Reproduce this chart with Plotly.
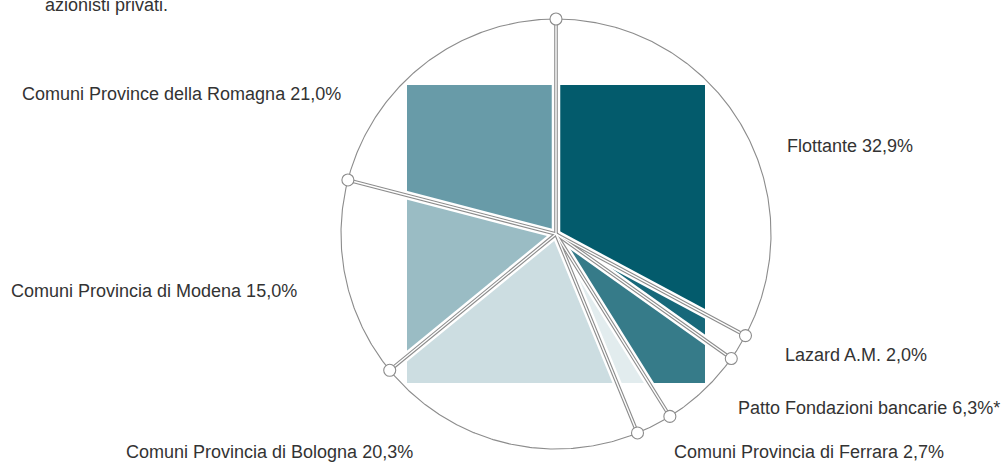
import numpy as np
import plotly.graph_objects as go

# Shareholder structure (percent), clockwise from 12 o'clock
names = [
    "Flottante",
    "Lazard A.M.",
    "Patto Fondazioni bancarie",
    "Comuni Provincia di Ferrara",
    "Comuni Provincia di Bologna",
    "Comuni Provincia di Modena",
    "Comuni Province della Romagna",
]
shares = [32.9, 2.0, 6.3, 2.7, 20.3, 15.0, 21.0]
notes = ["", "", "*", "", "", "", ""]
header = "azionisti privati."

# styling
colors = ["#035b6c", "#17687a", "#367b89", "#e2ecee", "#ccdde1", "#9abcc4", "#689ba8"]
grey = "#8c8c8c"
text_color = "#333333"
font_family = "Liberation Sans, Arial, sans-serif"
font_size = 18

# geometry (pixel units, y grows downward)
W, H = 1003, 466
cx, cy = 556.0, 234.0
R = 215.0          # outer ring radius
half = 149.0       # half side of the square the slices are clipped to

# label anchor points (left edge, vertical middle)
label_pos = [(785, 146), (783, 355), (736, 408), (672, 452), (124, 452), (9, 291), (20, 94)]


def to_xy(theta_deg, r):
    t = np.radians(theta_deg)
    return cx + r * np.sin(t), cy - r * np.cos(t)


def square_r(theta_deg):
    t = np.radians(theta_deg)
    return half / max(abs(np.sin(t)), abs(np.cos(t)))


total = sum(shares)
bounds = np.concatenate([[0.0], np.cumsum(shares) / total * 360.0])

fig = go.Figure()

# slices: wedge clipped to the square (corners inserted so edges stay straight)
corners = [45.0, 135.0, 225.0, 315.0]
for i, (a0, a1) in enumerate(zip(bounds[:-1], bounds[1:])):
    angles = [a0] + [c for c in corners if a0 < c < a1] + [a1]
    xs, ys = [cx], [cy]
    for a in angles:
        x, y = to_xy(a, square_r(a))
        xs.append(x)
        ys.append(y)
    xs.append(cx)
    ys.append(cy)
    fig.add_trace(go.Scatter(
        x=xs, y=ys, mode="lines", fill="toself", fillcolor=colors[i],
        line=dict(width=0), hoverinfo="skip",
    ))

# outer ring
ring_t = np.linspace(0, 360, 721)
rx, ry = to_xy(ring_t, R)
fig.add_trace(go.Scatter(x=rx, y=ry, mode="lines",
                         line=dict(color=grey, width=1.1), hoverinfo="skip"))

# white gaps between slices
for a in bounds[:-1]:
    x1, y1 = to_xy(a, R)
    fig.add_trace(go.Scatter(x=[cx, x1], y=[cy, y1], mode="lines",
                             line=dict(color="white", width=8.5), hoverinfo="skip"))

# double grey spokes
for a in bounds[:-1]:
    x1, y1 = to_xy(a, R)
    fig.add_trace(go.Scatter(x=[cx, x1], y=[cy, y1], mode="lines",
                             line=dict(color=grey, width=3.6), hoverinfo="skip"))
for a in bounds[:-1]:
    x1, y1 = to_xy(a, R)
    fig.add_trace(go.Scatter(x=[cx, x1], y=[cy, y1], mode="lines",
                             line=dict(color="white", width=1.4), hoverinfo="skip"))

# knobs where spokes meet the ring
kx, ky = to_xy(bounds[:-1], R)
fig.add_trace(go.Scatter(
    x=kx, y=ky, mode="markers",
    marker=dict(size=12, color="white", line=dict(color=grey, width=1.1)),
    hoverinfo="skip",
))


def fmt_pct(v):
    return f"{v:.1f}".replace(".", ",") + "%"


# labels
for name, val, note, (lx, ly) in zip(names, shares, notes, label_pos):
    txt = f"{name} {fmt_pct(val)}{note}"
    fig.add_annotation(x=lx, y=ly, xref="x", yref="y", text=txt, showarrow=False,
                       xanchor="left", yanchor="middle",
                       font=dict(family=font_family, size=font_size, color=text_color))

fig.add_annotation(x=43, y=17, xref="x", yref="y", text=header, showarrow=False,
                   xanchor="left", yanchor="bottom",
                   font=dict(family=font_family, size=font_size, color=text_color))

fig.update_layout(
    width=W, height=H, autosize=False,
    margin=dict(l=0, r=0, t=0, b=0),
    paper_bgcolor="white", plot_bgcolor="white",
    showlegend=False, hovermode=False,
    xaxis=dict(range=[0, W], visible=False, fixedrange=True),
    yaxis=dict(range=[H, 0], visible=False, fixedrange=True),
)

fig.write_html("out.html", config={"displayModeBar": False})
